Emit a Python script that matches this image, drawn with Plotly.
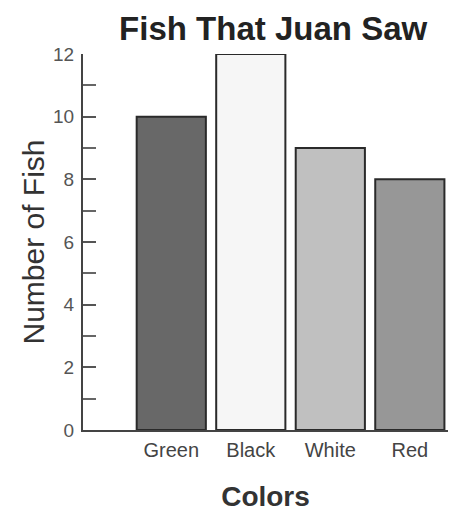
import plotly.graph_objects as go

categories = ["Green", "Black", "White", "Red"]
fish_counts = [10, 12, 9, 8]
bar_colors = ["#686868", "#f6f6f6", "#c0c0c0", "#979797"]

fig = go.Figure(go.Bar(
    x=list(range(len(categories))),
    y=fish_counts,
    width=0.87,
    marker=dict(color=bar_colors, line=dict(color="#2a2a2a", width=2)),
))

fig.update_layout(
    width=450, height=513,
    margin=dict(l=83, r=2, t=54, b=83),
    paper_bgcolor="white", plot_bgcolor="white",
    showlegend=False,
    title=dict(text="<b>Fish That Juan Saw</b>", x=0.607, xanchor="center",
               y=0.945, yanchor="middle",
               font=dict(family="Liberation Sans, Arial", size=33, color="#222")),
    font=dict(family="Liberation Sans, Arial", color="#444"),
)

fig.update_xaxes(
    range=[-1.11, 3.48], automargin=False,
    tickmode="array", tickvals=list(range(len(categories))), ticktext=categories,
    tickfont=dict(size=20, color="#444"),
    showgrid=False, zeroline=False,
    showline=True, linecolor="#444", linewidth=2,
    ticks="", ticklabelstandoff=1,
    title=dict(text="<b>Colors</b>", font=dict(size=28, color="#333"), standoff=26),
)

fig.update_yaxes(
    range=[0, 12], dtick=2, tick0=0, automargin=False,
    tickfont=dict(size=19, color="#555"),
    showgrid=False, zeroline=False,
    showline=True, linecolor="#444", linewidth=2,
    ticks="inside", ticklen=13, tickwidth=2, tickcolor="#555",
    minor=dict(dtick=1, ticks="inside", ticklen=13, tickwidth=2, tickcolor="#666", showgrid=False),
    ticklabelstandoff=3,
    title=dict(text="Number of Fish", font=dict(size=30, color="#333"), standoff=0),
)

fig.write_html("out.html",
               config={"displayModeBar": False},
               post_script="document.body.style.margin='0';document.body.style.padding='0';")
